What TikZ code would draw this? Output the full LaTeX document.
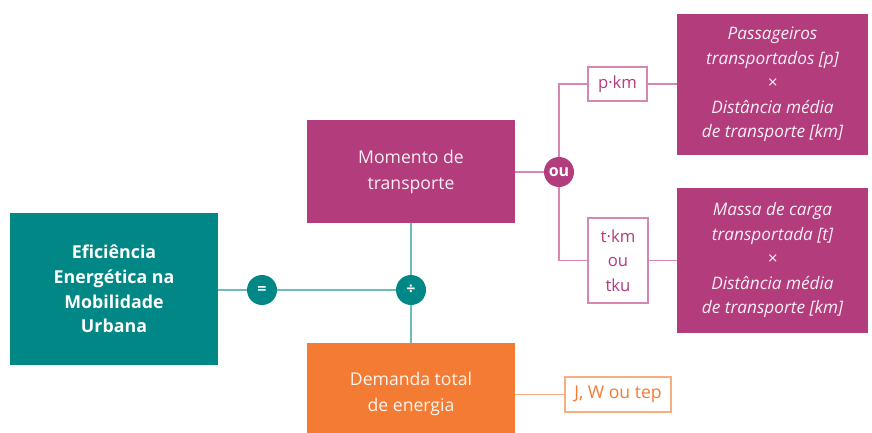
\documentclass[tikz,border=0pt]{standalone}
\usepackage{fontspec}
\setmainfont{Open Sans}
\begin{document}
\begin{tikzpicture}[x=1pt,y=-1pt,
  teal/.style={fill=tealc, draw=none, text=white, align=center, font=\fontsize{17.8}{24.7}\selectfont\bfseries, inner sep=0pt},
  mag/.style={fill=magc, draw=none, text=white!92!magc, align=center, inner sep=0pt},
  org/.style={fill=orgc, draw=none, text=white!92!orgc, align=center, inner sep=0pt},
  opc/.style={circle, minimum size=30pt, inner sep=0pt, text=white, font=\fontsize{16}{16}\selectfont\bfseries},
  unitm/.style={draw=magl, line width=1.3pt, fill=white, text=magc, align=center, inner sep=0pt, font=\fontsize{16.7}{24.5}\selectfont},
  unito/.style={draw=orgl, line width=1.3pt, fill=white, text=orgc, align=center, inner sep=0pt, font=\fontsize{17.6}{24}\selectfont},
  tline/.style={draw=teall, line width=2pt},
  mline/.style={draw=magl, line width=1.6pt},
  oline/.style={draw=orgl, line width=1.6pt}]
\definecolor{tealc}{HTML}{008786}
\definecolor{teall}{HTML}{6DBBBA}
\definecolor{magc}{HTML}{B33C7D}
\definecolor{magl}{HTML}{D587B1}
\definecolor{orgc}{HTML}{F47B33}
\definecolor{orgl}{HTML}{F8AD80}
\useasboundingbox (0,0) rectangle (872,432);
\clip (0,0) rectangle (872,432);
% main boxes
\node[teal, minimum width=208pt, minimum height=152pt] (eff) at (114,289) {Eficiência\\Energética na\\Mobilidade\\Urbana};
\node[mag, minimum width=208pt, minimum height=103pt, font=\fontsize{17.6}{26}\selectfont] (mom) at (411,171.5) {Momento de\\transporte};
\node[org, minimum width=208pt, minimum height=102pt, font=\fontsize{17.6}{26}\selectfont] (dem) at (411,394) {Demanda total\\de energia};
\node[mag, minimum width=191pt, minimum height=141pt, font=\fontsize{17.2}{24.5}\selectfont\itshape] (pas) at (772.5,84.5) {Passageiros\\transportados [p]\\×\\Distância média\\de transporte [km]};
\node[mag, minimum width=191pt, minimum height=145pt, font=\fontsize{17.2}{24.5}\selectfont\itshape] (mas) at (772.5,260.5) {Massa de carga\\transportada [t]\\×\\Distância média\\de transporte [km]};
% operator circles
\node[opc, fill=tealc] (eq) at (262,290) {=};
\node[opc, fill=tealc] (dv) at (411,290) {÷};
\node[opc, fill=magc] (ou) at (559,172) {ou};
% unit boxes
\node[unitm, minimum width=59pt, minimum height=34pt] (pkm) at (617.5,84) {p·km};
\node[unitm, minimum width=60pt, minimum height=85pt] (tkm) at (618,260.5) {t·km\\ou\\tku};
\node[unito, minimum width=106pt, minimum height=35pt] (jw) at (618,394.5) {J, W ou tep};
% connectors
\path[tline] (eff.east |- eq) -- (eq);
\path[tline] (eq) -- (dv);
\path[tline] (mom.south) -- (dv);
\path[tline] (dv) -- (dem.north);
\path[mline] (mom.east |- ou) -- (ou);
\path[mline] (ou) |- (pkm.west);
\path[mline] (ou) |- (tkm.west);
\path[mline] (pkm.east) -- (pkm.east -| pas.west);
\path[mline] (tkm.east) -- (tkm.east -| mas.west);
\path[oline] (dem.east |- jw) -- (jw.west);
\end{tikzpicture}
\end{document}
